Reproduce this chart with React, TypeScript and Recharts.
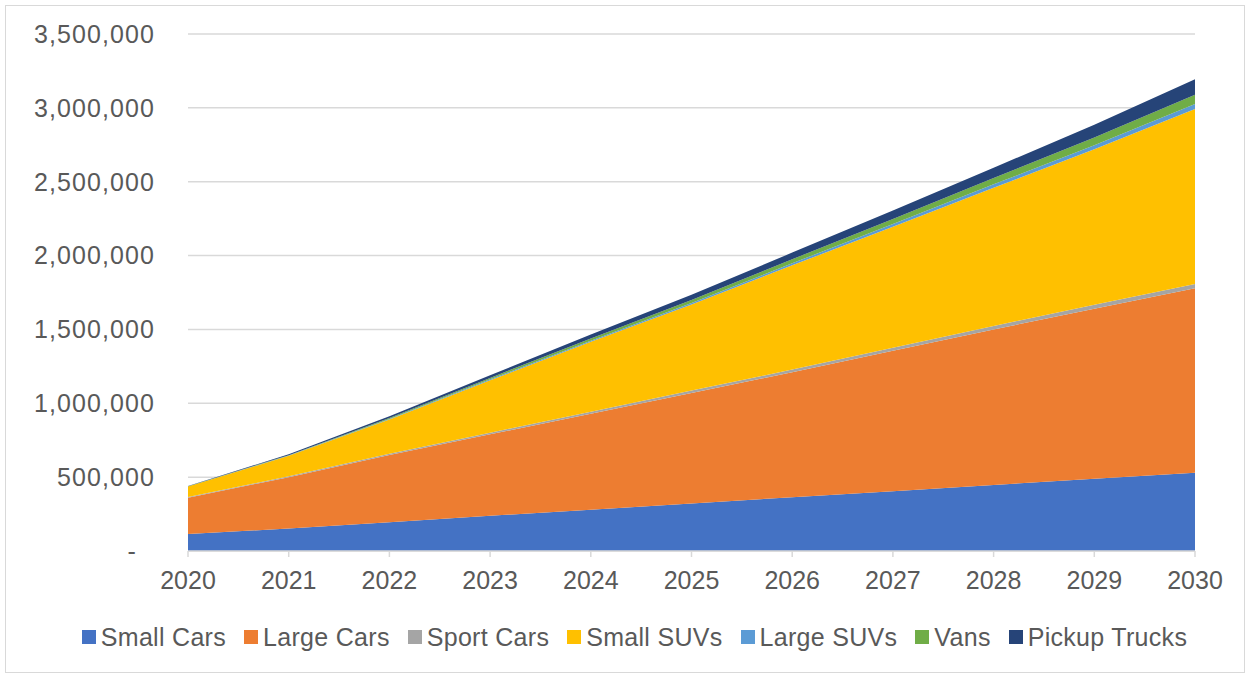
import { AreaChart, Area, XAxis, YAxis, CartesianGrid, Legend } from "recharts";

const years = ["2020", "2021", "2022", "2023", "2024", "2025", "2026", "2027", "2028", "2029", "2030"];

const smallCars = [115000, 152000, 195000, 238000, 280000, 322000, 364000, 405000, 447000, 489000, 530000];
const largeCars = [246000, 348000, 455000, 552000, 650000, 748000, 846000, 950000, 1053000, 1151000, 1248000];
const sportCars = [4000, 6000, 8000, 11000, 13000, 16000, 18000, 21000, 24000, 27000, 30000];
const smallSUVs = [71000, 138000, 232000, 355000, 473000, 582000, 706000, 819000, 935000, 1052000, 1184000];
const largeSUVs = [1000, 2000, 4000, 6000, 8000, 11000, 14000, 18000, 23000, 28000, 34000];
const vans = [1000, 3000, 6000, 10000, 15000, 21000, 27000, 35000, 43000, 52000, 63000];
const pickupTrucks = [2000, 6000, 12000, 18000, 26000, 35000, 45000, 57000, 70000, 86000, 104000];

const yTicks = [0, 500000, 1000000, 1500000, 2000000, 2500000, 3000000, 3500000];

const series = [
  { key: "smallCars", name: "Small Cars", color: "#4472C4", values: smallCars },
  { key: "largeCars", name: "Large Cars", color: "#ED7D31", values: largeCars },
  { key: "sportCars", name: "Sport Cars", color: "#A5A5A5", values: sportCars },
  { key: "smallSUVs", name: "Small SUVs", color: "#FFC000", values: smallSUVs },
  { key: "largeSUVs", name: "Large SUVs", color: "#5B9BD5", values: largeSUVs },
  { key: "vans", name: "Vans", color: "#70AD47", values: vans },
  { key: "pickupTrucks", name: "Pickup Trucks", color: "#264478", values: pickupTrucks },
];

const data = years.map((year, i) => {
  const row: Record<string, string | number> = { year };
  series.forEach((s) => {
    row[s.key] = s.values[i];
  });
  return row;
});

const FONT = '"Liberation Sans", Arial, sans-serif';
const TEXT = "#595959";
const GRID = "#d9d9d9";

function YTick({ x, y, payload }: any) {
  const v = payload.value as number;
  const label = v === 0 ? "-" : v.toLocaleString("en-US");
  return (
    <text
      x={v === 0 ? x - 18 : x}
      y={y}
      dy="0.355em"
      textAnchor="end"
      fill={TEXT}
      fontSize={25}
      fontFamily={FONT}
      letterSpacing={1.1}
    >
      {label}
    </text>
  );
}

function LegendContent() {
  return (
    <div
      style={{
        display: "flex",
        justifyContent: "center",
        alignItems: "center",
        height: 30,
        gap: 18,
        fontFamily: FONT,
        fontSize: 25,
        letterSpacing: 0.3,
        color: TEXT,
      }}
    >
      {series.map((s) => (
        <div key={s.key} style={{ display: "flex", alignItems: "center", gap: 5 }}>
          <div style={{ width: 14, height: 14, background: s.color }} />
          <span>{s.name}</span>
        </div>
      ))}
    </div>
  );
}

export default function App() {
  return (
    <div style={{ position: "absolute", left: 0, top: 0, width: 1249, height: 673, background: "#fff" }}>
      <div
        style={{
          position: "absolute",
          left: 5,
          top: 5,
          width: 1238,
          height: 666,
          border: `1px solid ${GRID}`,
        }}
      />
      <div style={{ position: "absolute", left: 0, top: 0 }}>
        <AreaChart
          width={1249}
          height={673}
          data={data}
          margin={{ top: 34, right: 54, bottom: 42, left: 0 }}
        >
          <CartesianGrid vertical={false} stroke={GRID} strokeWidth={1.5} />
          <XAxis
            dataKey="year"
            stroke={GRID}
            strokeWidth={1.5}
            tickSize={6}
            tickMargin={14}
            height={50}
            tick={{ fill: TEXT, fontSize: 25, fontFamily: FONT }}
            interval={0}
          />
          <YAxis
            width={188}
            domain={[0, 3500000]}
            ticks={yTicks}
            axisLine={false}
            tickLine={false}
            tickSize={0}
            tickMargin={33}
            tick={<YTick />}
            interval={0}
          />
          {series.map((s) => (
            <Area
              key={s.key}
              dataKey={s.key}
              name={s.name}
              stackId="1"
              type="linear"
              stroke="none"
              fill={s.color}
              fillOpacity={1}
              isAnimationActive={false}
            />
          ))}
          <Legend
            verticalAlign="bottom"
            content={<LegendContent />}
            wrapperStyle={{ left: 10, width: 1249, top: 622, bottom: "auto" }}
          />
        </AreaChart>
      </div>
    </div>
  );
}
